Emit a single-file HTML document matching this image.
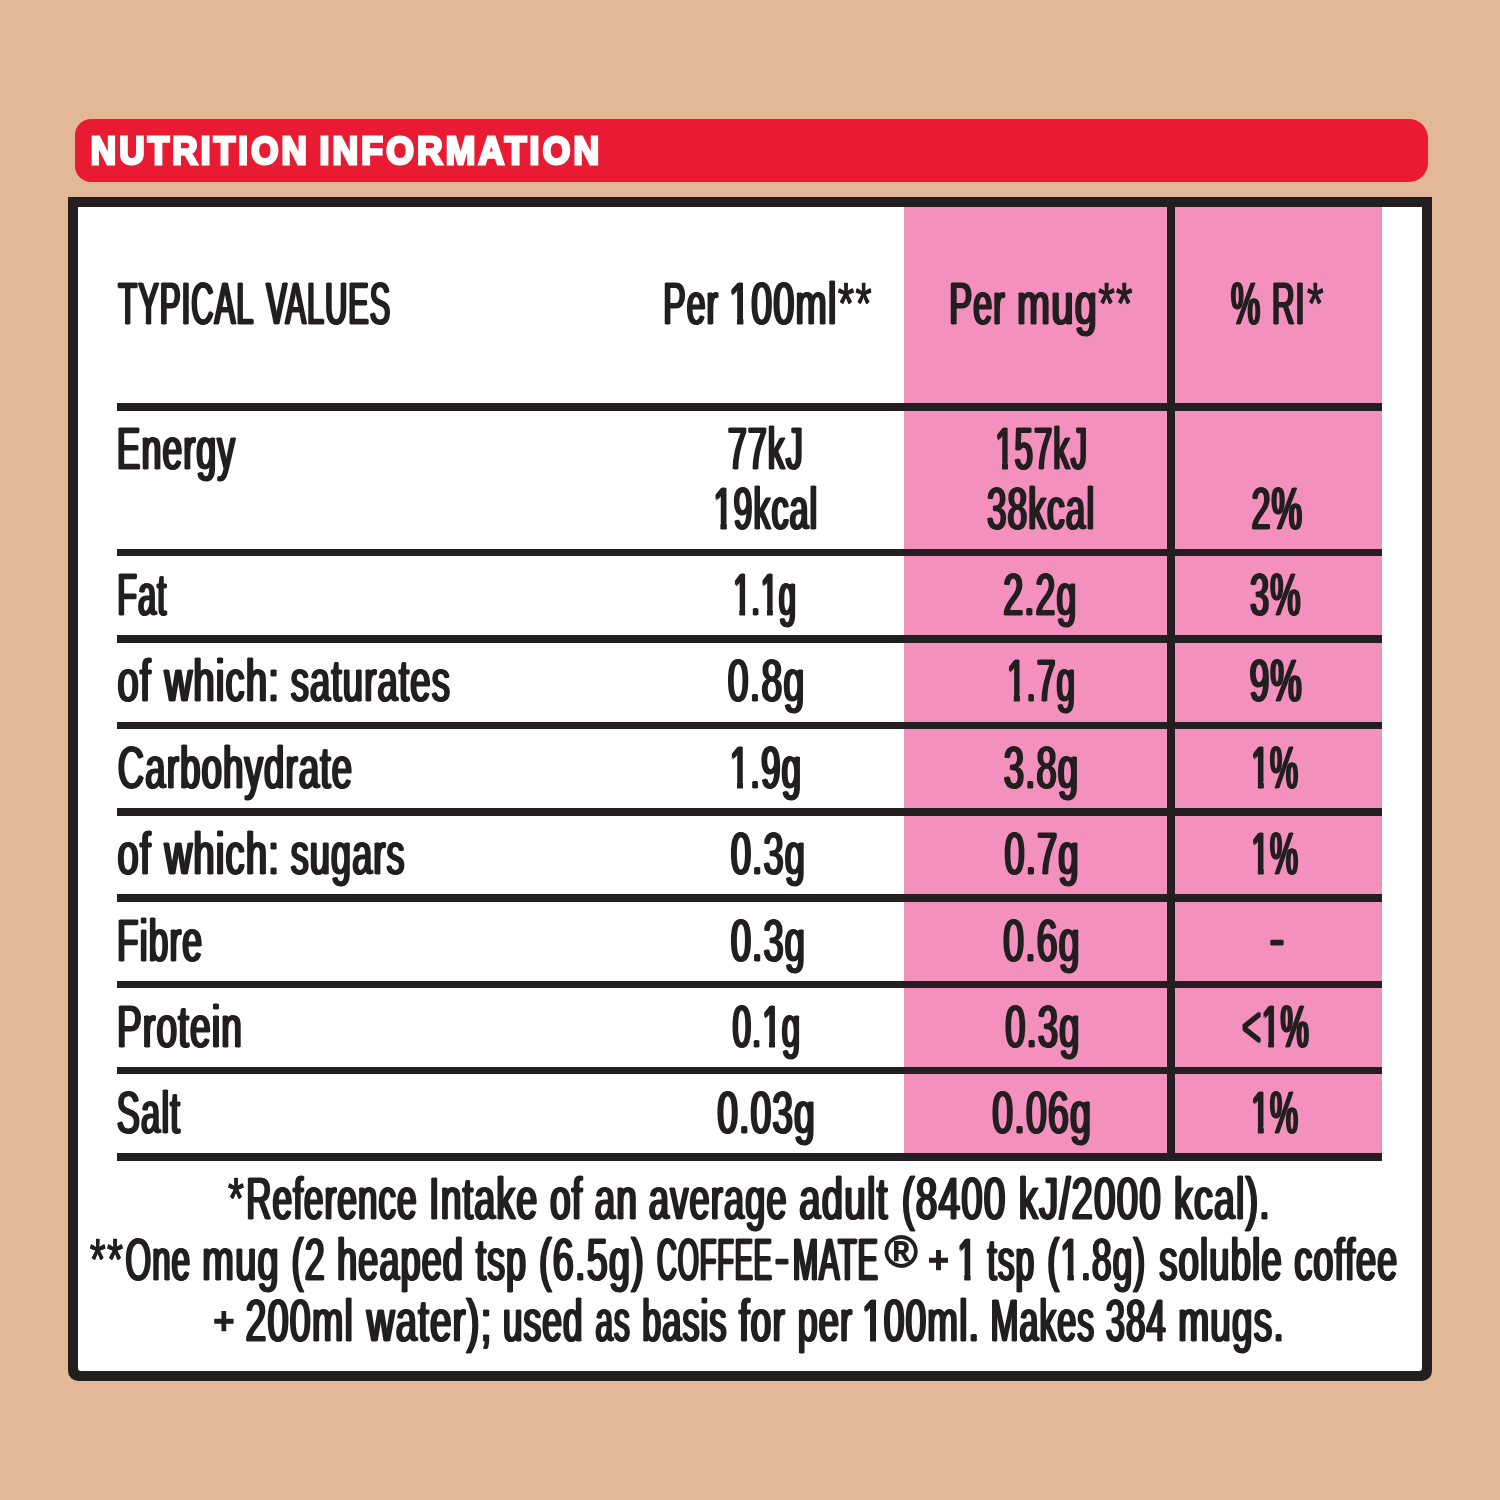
<!DOCTYPE html>
<html lang="en"><head><meta charset="utf-8"><title>Nutrition Information</title>
<style>
html,body,h1,p{margin:0;padding:0}
body{width:1500px;height:1500px;background:#e3b896;position:relative;font-family:"Liberation Sans",sans-serif;}
.bar{position:absolute;left:74.7px;top:118.6px;width:1353.5px;height:63.6px;background:#e91b32;border-radius:16px 19px 19px 16px}
.box{position:absolute;left:68.2px;top:197px;width:1363.6px;height:1184px;background:#231f20;border-radius:0 0 10px 10px}
.boxin{position:absolute;left:10px;top:9.6px;right:10px;bottom:10px;background:#fff;border-radius:0 0 3px 3px}
.pink{position:absolute;left:904.2px;top:206.5px;width:477.8px;height:950px;background:#f390be}
.hl{position:absolute;left:116.6px;width:1265.4px;height:7.5px;background:#231f20}
.vl{position:absolute;left:1166.5px;top:206.5px;width:8.5px;height:954.4px;background:#231f20}
.t{position:absolute;left:0;top:0;white-space:pre;font-weight:normal;font-size:59px;line-height:1;color:#231f20;transform-origin:0 0;letter-spacing:2.0px;-webkit-text-stroke:1.2px currentColor;text-shadow:var(--e) 0 0 currentColor,calc(var(--e)*-1) 0 0 currentColor}
.o{display:inline-block;clip-path:polygon(-9px -9px,45px -9px,45px 43px,calc(20.1px + var(--e)) 43px,calc(20.1px + var(--e)) 70px,calc(14.7px - var(--e)) 70px,calc(14.7px - var(--e)) 43px,-9px 43px)}
</style></head><body>
<div class="bar"></div>
<div class="box"><div class="boxin"></div></div>
<div class="pink"></div>
<div class="hl" style="top:403.3px"></div>
<div class="hl" style="top:548.5px"></div>
<div class="hl" style="top:635.0px"></div>
<div class="hl" style="top:721.7px"></div>
<div class="hl" style="top:808.0px"></div>
<div class="hl" style="top:894.2px"></div>
<div class="hl" style="top:980.6px"></div>
<div class="hl" style="top:1066.8px"></div>
<div class="hl" style="top:1153.4px"></div>
<div class="vl"></div>
<h1><span class="t ttl" style="transform:translate(90.80px,131px) scaleX(0.8995);--e:0.00px;font-size:39px;color:#fff;letter-spacing:3.5px;font-weight:bold;-webkit-text-stroke-width:3.0px;">NUTRITION </span><span class="t ttl" style="transform:translate(319.38px,131px) scaleX(0.9104);--e:0.00px;font-size:39px;color:#fff;letter-spacing:3.5px;font-weight:bold;-webkit-text-stroke-width:3.0px;">INFORMATION</span></h1>
<div class="row head"><span class="t" style="transform:translate(118.31px,275px) scaleX(0.5241);--e:2.48px;">TYPICAL </span><span class="t" style="transform:translate(266.36px,275px) scaleX(0.5196);--e:2.50px;">VALUES </span><span class="t" style="transform:translate(663.18px,275px) scaleX(0.5698);--e:2.28px;">Per </span><span class="t" style="transform:translate(729.07px,275px) scaleX(0.6362);--e:2.04px;"><span class="o">1</span>00ml</span><span class="t ast" style="transform:translate(837.91px,275px) scaleX(0.7018);--e:0.78px;-webkit-text-stroke-width:0.5px;">** </span><span class="t" style="transform:translate(949.35px,275px) scaleX(0.5764);--e:2.26px;">Per </span><span class="t" style="transform:translate(1017.02px,275px) scaleX(0.6711);--e:1.94px;">mug</span><span class="t ast" style="transform:translate(1098.40px,275px) scaleX(0.7083);--e:0.78px;-webkit-text-stroke-width:0.5px;">** </span><span class="t" style="transform:translate(1231.04px,275px) scaleX(0.5567);--e:2.34px;">% </span><span class="t" style="transform:translate(1272.06px,275px) scaleX(0.5290);--e:2.46px;">RI</span><span class="t ast" style="transform:translate(1306.99px,275px) scaleX(0.7230);--e:0.76px;-webkit-text-stroke-width:0.5px;">* </span></div>
<div class="row r0"><span class="t" style="transform:translate(116.75px,420px) scaleX(0.6004);--e:2.17px;">Energy </span><span class="t" style="transform:translate(727.90px,420px) scaleX(0.5733);--e:2.27px;">77kJ </span><span class="t" style="transform:translate(713.59px,480px) scaleX(0.5733);--e:2.27px;"><span class="o">1</span>9kcal </span><span class="t" style="transform:translate(995.28px,420px) scaleX(0.5554);--e:2.34px;"><span class="o">1</span>57kJ </span><span class="t" style="transform:translate(986.99px,480px) scaleX(0.5942);--e:2.19px;">38kcal </span><span class="t" style="transform:translate(1251.51px,480px) scaleX(0.5787);--e:2.25px;">2% </span></div>
<div class="row r1"><span class="t" style="transform:translate(117.27px,566px) scaleX(0.5480);--e:2.37px;">Fat </span><span class="t" style="transform:translate(733.38px,566px) scaleX(0.5163);--e:2.52px;"><span class="o">1</span>.<span class="o">1</span>g </span><span class="t" style="transform:translate(1003.35px,566px) scaleX(0.6033);--e:2.15px;">2.2g </span><span class="t" style="transform:translate(1250.12px,566px) scaleX(0.5774);--e:2.25px;">3% </span></div>
<div class="row r2"><span class="t" style="transform:translate(117.57px,652px) scaleX(0.6450);--e:2.02px;">of </span><span class="t" style="transform:translate(164.64px,652px) scaleX(0.6445);--e:2.02px;">which: </span><span class="t" style="transform:translate(290.69px,652px) scaleX(0.6152);--e:2.11px;">saturates </span><span class="t" style="transform:translate(727.80px,652px) scaleX(0.6327);--e:2.05px;">0.8g </span><span class="t" style="transform:translate(1006.94px,652px) scaleX(0.5634);--e:2.31px;"><span class="o">1</span>.7g </span><span class="t" style="transform:translate(1249.59px,652px) scaleX(0.5964);--e:2.18px;">9% </span></div>
<div class="row r3"><span class="t" style="transform:translate(117.79px,739px) scaleX(0.6170);--e:2.11px;">Carbohydrate </span><span class="t" style="transform:translate(729.81px,739px) scaleX(0.5883);--e:2.21px;"><span class="o">1</span>.9g </span><span class="t" style="transform:translate(1003.86px,739px) scaleX(0.6135);--e:2.12px;">3.8g </span><span class="t" style="transform:translate(1251.39px,739px) scaleX(0.5346);--e:2.43px;"><span class="o">1</span>% </span></div>
<div class="row r4"><span class="t" style="transform:translate(117.57px,825px) scaleX(0.6450);--e:2.02px;">of </span><span class="t" style="transform:translate(164.64px,825px) scaleX(0.6445);--e:2.02px;">which: </span><span class="t" style="transform:translate(290.70px,825px) scaleX(0.6083);--e:2.14px;">sugars </span><span class="t" style="transform:translate(730.83px,825px) scaleX(0.6128);--e:2.12px;">0.3g </span><span class="t" style="transform:translate(1004.53px,825px) scaleX(0.6120);--e:2.12px;">0.7g </span><span class="t" style="transform:translate(1251.39px,825px) scaleX(0.5346);--e:2.43px;"><span class="o">1</span>% </span></div>
<div class="row r5"><span class="t" style="transform:translate(117.07px,912px) scaleX(0.5955);--e:2.18px;">Fibre </span><span class="t" style="transform:translate(730.83px,912px) scaleX(0.6128);--e:2.12px;">0.3g </span><span class="t" style="transform:translate(1003.20px,912px) scaleX(0.6318);--e:2.06px;">0.6g </span><span class="t" style="transform:translate(1269.56px,909px) scaleX(0.7579);--e:1.72px;">- </span></div>
<div class="row r6"><span class="t" style="transform:translate(116.93px,998px) scaleX(0.6284);--e:2.07px;">Protein </span><span class="t" style="transform:translate(732.63px,998px) scaleX(0.5584);--e:2.33px;">0.<span class="o">1</span>g </span><span class="t" style="transform:translate(1005.23px,998px) scaleX(0.6137);--e:2.12px;">0.3g </span><span class="t" style="transform:translate(1242.36px,998px) scaleX(0.5364);--e:2.42px;">&lt;<span class="o">1</span>% </span></div>
<div class="row r7"><span class="t" style="transform:translate(116.79px,1084px) scaleX(0.5864);--e:2.22px;">Salt </span><span class="t" style="transform:translate(717.41px,1084px) scaleX(0.6249);--e:2.08px;">0.03g </span><span class="t" style="transform:translate(992.30px,1084px) scaleX(0.6336);--e:2.05px;">0.06g </span><span class="t" style="transform:translate(1251.39px,1084px) scaleX(0.5346);--e:2.43px;"><span class="o">1</span>% </span></div>
<p class="n1"><span class="t ast" style="transform:translate(228.12px,1170px) scaleX(0.6895);--e:0.80px;-webkit-text-stroke-width:0.5px;">*</span><span class="t" style="transform:translate(246.29px,1170px) scaleX(0.5907);--e:2.20px;">Reference </span><span class="t" style="transform:translate(429.03px,1170px) scaleX(0.6332);--e:2.05px;">Intake </span><span class="t" style="transform:translate(550.11px,1170px) scaleX(0.6231);--e:2.09px;">of an </span><span class="t" style="transform:translate(648.91px,1170px) scaleX(0.6113);--e:2.13px;">average </span><span class="t" style="transform:translate(799.24px,1170px) scaleX(0.6484);--e:2.00px;">adult </span><span class="t" style="transform:translate(901.80px,1170px) scaleX(0.6513);--e:2.00px;">(8400 </span><span class="t" style="transform:translate(1018.69px,1170px) scaleX(0.6493);--e:2.00px;">kJ/2000 </span><span class="t" style="transform:translate(1174.15px,1170px) scaleX(0.6329);--e:2.05px;">kcal). </span></p>
<p class="n2"><span class="t ast" style="transform:translate(89.82px,1231px) scaleX(0.6930);--e:0.79px;-webkit-text-stroke-width:0.5px;">**</span><span class="t" style="transform:translate(125.45px,1231px) scaleX(0.5589);--e:2.33px;">One </span><span class="t" style="transform:translate(202.32px,1231px) scaleX(0.6426);--e:2.02px;">mug </span><span class="t" style="transform:translate(291.53px,1231px) scaleX(0.6089);--e:2.13px;">(2 </span><span class="t" style="transform:translate(337.17px,1231px) scaleX(0.6072);--e:2.14px;">heaped </span><span class="t" style="transform:translate(476.13px,1231px) scaleX(0.6017);--e:2.16px;">tsp </span><span class="t" style="transform:translate(538.93px,1231px) scaleX(0.6393);--e:2.03px;">(6.5g) </span><span class="t" style="transform:translate(657.17px,1231px) scaleX(0.4601);--e:2.83px;">COFFEE</span><span class="t" style="transform:translate(774.81px,1228px) scaleX(0.7322);--e:1.78px;">-</span><span class="t" style="transform:translate(792.87px,1231px) scaleX(0.5134);--e:2.53px;">MATE</span><span class="t" style="transform:translate(884.67px,1229px) scaleX(0.9890);--e:0.30px;font-size:45px;letter-spacing:0px;-webkit-text-stroke-width:1.8px;">® </span><span class="t" style="transform:translate(927.64px,1241px) scaleX(0.9675);--e:0.00px;font-size:38px;letter-spacing:0px;font-weight:bold;-webkit-text-stroke-width:0.6px;">+ </span><span class="t" style="transform:translate(957.65px,1231px) scaleX(0.5620);--e:2.31px;"><span class="o">1</span> tsp </span><span class="t" style="transform:translate(1047.37px,1231px) scaleX(0.5957);--e:2.18px;">(<span class="o">1</span>.8g) </span><span class="t" style="transform:translate(1159.24px,1231px) scaleX(0.6149);--e:2.11px;">soluble </span><span class="t" style="transform:translate(1294.34px,1231px) scaleX(0.6057);--e:2.15px;">coffee </span></p>
<p class="n3"><span class="t" style="transform:translate(213.25px,1302px) scaleX(0.9624);--e:0.00px;font-size:38px;letter-spacing:0px;font-weight:bold;-webkit-text-stroke-width:0.6px;">+ </span><span class="t" style="transform:translate(245.47px,1292px) scaleX(0.6368);--e:2.04px;">200ml </span><span class="t" style="transform:translate(366.84px,1292px) scaleX(0.6471);--e:2.01px;">water); </span><span class="t" style="transform:translate(502.98px,1292px) scaleX(0.5941);--e:2.19px;">used </span><span class="t" style="transform:translate(595.46px,1292px) scaleX(0.5333);--e:2.44px;">as </span><span class="t" style="transform:translate(642.23px,1292px) scaleX(0.5775);--e:2.25px;">basis </span><span class="t" style="transform:translate(739.16px,1292px) scaleX(0.6254);--e:2.08px;">for </span><span class="t" style="transform:translate(797.74px,1292px) scaleX(0.6062);--e:2.14px;">per </span><span class="t" style="transform:translate(862.13px,1292px) scaleX(0.6240);--e:2.08px;"><span class="o">1</span>00ml. </span><span class="t" style="transform:translate(990.48px,1292px) scaleX(0.5695);--e:2.28px;">Makes </span><span class="t" style="transform:translate(1105.81px,1292px) scaleX(0.5847);--e:2.22px;">384 </span><span class="t" style="transform:translate(1178.38px,1292px) scaleX(0.6245);--e:2.08px;">mugs.</span></p>
</body></html>
